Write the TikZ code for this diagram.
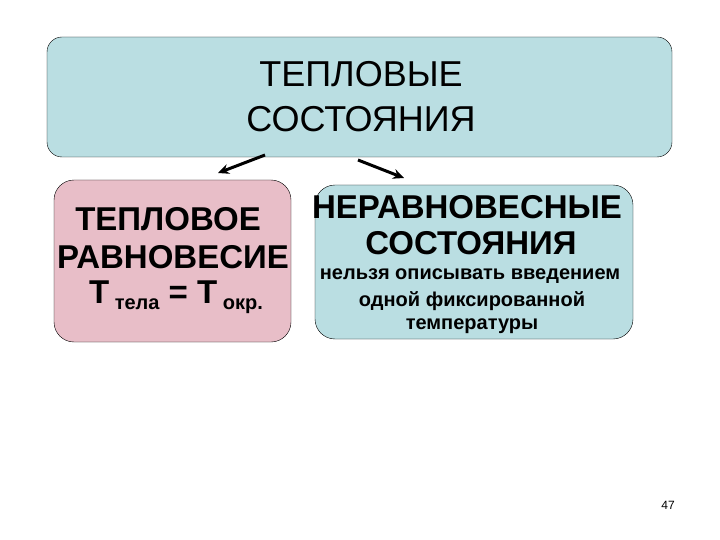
\documentclass[tikz,border=0pt]{standalone}
\usepackage{fontspec}
\setmainfont{Liberation Sans}
\usetikzlibrary{arrows.meta}
\definecolor{stateblue}{RGB}{186,222,226}
\definecolor{eqpink}{RGB}{232,190,200}
\tikzstyle{topbox}=[draw=black, fill=stateblue, rounded corners=15pt, thin]
\tikzstyle{eqbox}=[draw=black, fill=eqpink, rounded corners=20pt, thin]
\tikzstyle{neqbox}=[draw=black, fill=stateblue, rounded corners=20pt, thin]
\tikzstyle{big}=[font=\fontsize{33}{35}\selectfont\bfseries]
\tikzstyle{small}=[font=\fontsize{20}{22}\selectfont\bfseries]
\tikzstyle{link}=[line width=3pt, -{Stealth[length=11pt,width=10pt]}]

\begin{document}
\begin{tikzpicture}[x=1pt, y=-1pt]
				\useasboundingbox (0,0) rectangle (720,540);
				% Boxes
				\draw[topbox] (47,37) rectangle (672,157);
				\draw[eqbox] (54,180) rectangle (291,342);
				\draw[neqbox] (315,185) rectangle (633,339);

				% Heading
				\node[font=\fontsize{36}{38}\selectfont] (title1) at (361,74) {ТЕПЛОВЫЕ};
				\node[font=\fontsize{36}{38}\selectfont] (title2) at (361,119) {СОСТОЯНИЯ};

				% Thermal equilibrium
				\node[big] (eq1) at (168,219) {ТЕПЛОВОЕ};
				\node[big] (eq2) at (173,257) {РАВНОВЕСИЕ};
				\node[big] (eq3) at (176,297) {Т\,\raisebox{-6pt}{\fontsize{20}{22}\selectfont тела} = Т\,\raisebox{-6pt}{\fontsize{20}{22}\selectfont окр.}};

				% Non-equilibrium
				\node[big] (neq1) at (467,207) {НЕРАВНОВЕСНЫЕ};
				\node[big] (neq2) at (471,243) {СОСТОЯНИЯ};
				\node[small] (neq3) at (470,276) {нельзя описывать введением};
				\node[small] (neq4) at (472,301) {одной фиксированной};
				\node[small] (neq5) at (472,326) {температуры};

				\coordinate (lstart) at (265,155);
				\coordinate (lend) at (218,173);
				\coordinate (rstart) at (358,160);
				\coordinate (rend) at (404,178);
				\draw[link] (lstart) -- (lend);
				\draw[link] (rstart) -- (rend);

				\node[font=\fontsize{12}{14}\selectfont] (page) at (668,505) {47};
			\end{tikzpicture}
\end{document}
